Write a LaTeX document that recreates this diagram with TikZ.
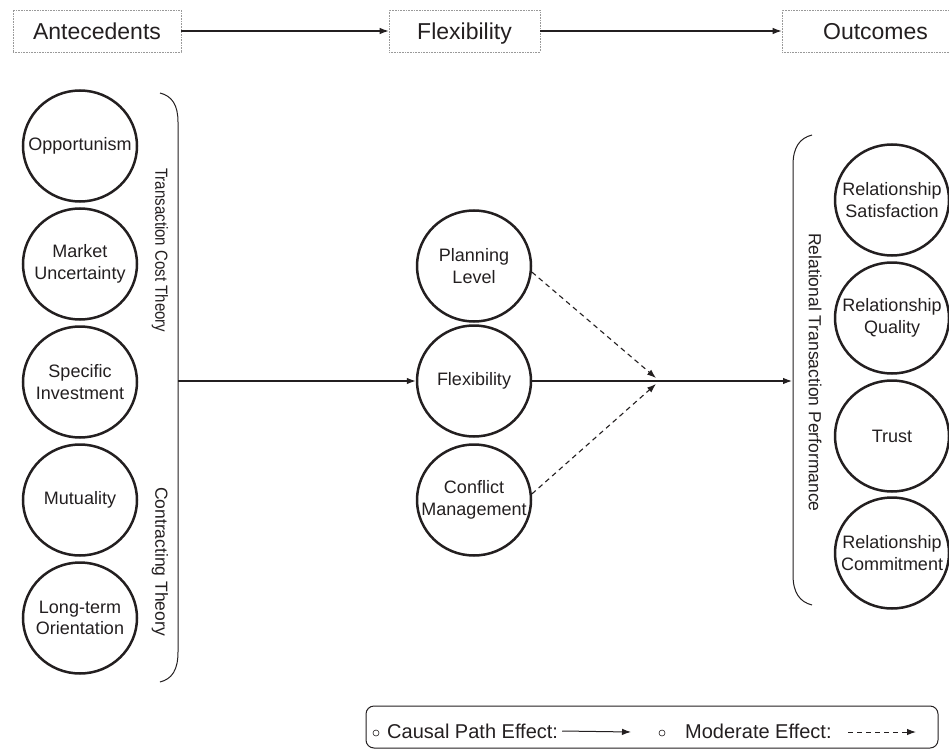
\documentclass[tikz,border=0pt]{standalone}
\usepackage{fontspec}
\setmainfont{Liberation Sans}
\usetikzlibrary{shapes.geometric,arrows.meta}
\definecolor{ink}{HTML}{231F20}
\begin{document}
\begin{tikzpicture}[x=1pt,y=-1pt,
  hdr/.style={draw=gray!80, densely dotted, line width=0.6pt, minimum height=42pt, inner sep=0pt, text height=17.5pt, text depth=0.5pt, font=\fontsize{23}{27}\selectfont, text=ink},
  circ/.style={ellipse, draw=ink, line width=2.5pt, minimum width=114pt, minimum height=111pt, inner sep=0pt},
  ctext/.style={align=center, inner sep=0pt, font=\fontsize{18}{21.5}\selectfont, text=ink},
  lbl/.style={rotate=-90, anchor=west, font=\fontsize{17.5}{21}\selectfont, text=ink, inner sep=0pt},
  arr/.style={-{Latex[length=9pt,width=6.5pt]}, line width=1.1pt, draw=ink},
  darr/.style={arr, dash pattern=on 5pt off 4pt},
  brace/.style={line width=1pt, draw=ink},
  legtext/.style={anchor=west, inner sep=0pt, font=\fontsize{20}{24}\selectfont, text=ink},
  bullet/.style={circle, draw=ink, line width=0.6pt, inner sep=0pt, minimum size=6pt}
]
\useasboundingbox (0,0) rectangle (949,754);
\begin{scope}
\clip (0,0) rectangle (949,754);
% header
\node[hdr, minimum width=168pt] (hA) at (97,31) {Antecedents};
\node[hdr, minimum width=151pt] (hF) at (464.5,31) {Flexibility};
\node[hdr, minimum width=175pt] (hO) at (869.5,31) {\hspace*{12pt}Outcomes};
\draw[arr] (hA.east) -- (hF.west);
\draw[arr] (hF.east) -- (hO.west);

% left circles
\node[circ, label={[ctext]center:Opportunism}] (opp) at (80,146) {};
\node[circ, label={[ctext]center:{Market\\Uncertainty}}] (mkt) at (80,264) {};
\node[circ, label={[ctext]center:{Specific\\Investment}}] (spec) at (80,382) {};
\node[circ, label={[ctext]center:Mutuality}] (mut) at (80,500) {};
\node[circ, label={[ctext]center:{Long-term\\Orientation}}] (lto) at (80,618) {};

% left brace
\draw[brace] (160,93) .. controls (172,96) and (178,105) .. (178,122) -- (178,652) .. controls (178,670) and (172,679) .. (160,682);
\node[lbl] (tct) at (160,168) {\scalebox{0.86}[1]{Transaction Cost Theory}};
\node[lbl] (ct) at (160,487) {Contracting Theory};
\coordinate (lb) at (178,381);

% middle circles
\node[circ, label={[ctext]center:{Planning\\Level}}] (plan) at (474,266) {};
\node[circ, label={[ctext]center:Flexibility}] (flex) at (474,381) {};
\node[circ, label={[ctext]center:{Conflict\\Management}}] (conf) at (474,500) {};

\draw[arr] (lb) -- (flex.west);

% right brace
\draw[brace] (812,135) .. controls (800,138) and (793,147) .. (793,165) -- (793,575) .. controls (793,593) and (800,602) .. (812,605);
\node[lbl] (rtp) at (815,233) {Relational Transaction Performance};
\coordinate (rb) at (792,381);
\draw[arr] (flex.east) -- (rb);

% moderators
\coordinate (j1) at (656,378);
\coordinate (j2) at (656,384);
\draw[darr] (plan.-6) -- (j1);
\draw[darr] (conf.6) -- (j2);

% right circles
\node[circ, label={[ctext]center:{Relationship\\Satisfaction}}] (sat) at (892,200) {};
\node[circ, label={[ctext]center:{Relationship\\Quality}}] (qual) at (892,318) {};
\node[circ, label={[ctext]center:Trust}] (trust) at (892,436) {};
\node[circ, label={[ctext]center:{Relationship\\Commitment}}] (comm) at (892,553) {};

% legend
\node[draw=ink, rounded corners=8pt, line width=1pt, minimum width=572pt, minimum height=42pt, inner sep=0pt] (leg) at (652,727) {};
\node[bullet] (b1) at (376,733) {};
\node[legtext] (t1) at (387,731) {Causal Path Effect:};
\coordinate (a1e) at (631,732);
\draw[arr, line width=1pt] ([xshift=4pt]t1.east) -- (a1e);
\node[bullet] (b2) at (662,733) {};
\node[legtext] (t2) at (685,731) {Moderate Effect:};
\coordinate (a2s) at (848,732);
\coordinate (a2e) at (916,732);
\draw[darr, line width=1pt] (a2s) -- (a2e);
\end{scope}
\end{tikzpicture}
\end{document}
